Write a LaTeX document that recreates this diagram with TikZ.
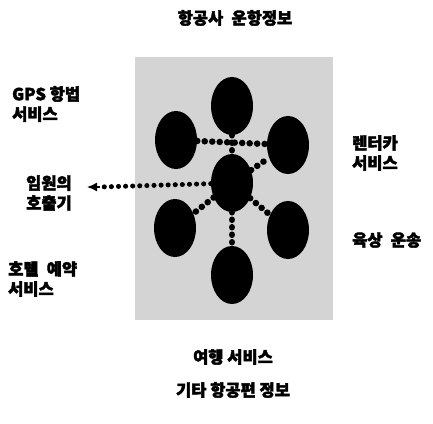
\documentclass[tikz,border=0pt]{standalone}
\usepackage{fontspec}
\newfontfamily\kr[BoldFeatures={FakeBold=2.5}]{Noto Sans CJK KR}
\usepackage{tikz}
\usetikzlibrary{shapes.geometric, arrows.meta, positioning}
\tikzstyle{blob} = [ellipse, fill=black, draw=none, minimum width=42pt, minimum height=58pt, inner sep=0pt]
\tikzstyle{dots} = [line width=6.5pt, dash pattern=on 0.1pt off 7.4pt, line cap=round]
\tikzset{
	label/.style = {font=\kr\bfseries\fontsize{16.5}{20}\selectfont, align=left, inner sep=0pt},
	title/.style = {label, align=center}
}

\begin{document}
\begin{tikzpicture}[x=1pt, y=-1pt]
\useasboundingbox (0,0) rectangle (433,423);
%----------------------------------------------------------------------------
% Background field
\fill[black!17] (135,57) rectangle (333,320);

%----------------------------------------------------------------------------
% Placement of ellipses
\node (top) [blob] at (232,106) {};
\node (upLeft) [blob] at (176,140) {};
\node (upRight) [blob] at (288,145) {};
\node (hub) [blob] at (232,183) {};
\node (lowLeft) [blob] at (175,228) {};
\node (lowRight) [blob] at (288,230) {};
\node (bottom) [blob] at (232,275) {};

%----------------------------------------------------------------------------
% Labels
\node (airline) [title] at (235,18) {항공사\enspace 운항정보};
\node (gps) [label, anchor=west] at (12,104) {GPS 항법\\서비스};
\node (rental) [label, anchor=west] at (352,153) {렌터카\\서비스};
\node (pager) [label, anchor=west] at (26,193) {임원의\\호출기};
\node (land) [label, anchor=west] at (352,240) {육상\enspace 운송};
\node (hotel) [label, anchor=west] at (8,279) {호텔\enspace 예약\\서비스};
\node (travel) [title] at (233,357) {여행 서비스};
\node (flights) [title] at (233,390) {기타 항공편 정보};

\coordinate (tip) at (87,187);
\coordinate (tail) at (100,187);

%----------------------------------------------------------------------------
% Lines
\draw [dots] (upLeft) -- (upRight);
\draw [dots] (top) -- (hub);
\draw [dots] (hub) -- (upRight);
\draw [dots] (hub) -- (lowLeft);
\draw [dots] (hub) -- (lowRight);
\draw [dots] (hub) -- (bottom);
\draw [dots, line width=5pt, dash pattern=on 0.1pt off 7pt] (hub) -- (tail);
\draw [-{Latex[length=10pt, width=9pt]}, line width=1.5pt] (tail) -- (tip);
\end{tikzpicture}
\end{document}
